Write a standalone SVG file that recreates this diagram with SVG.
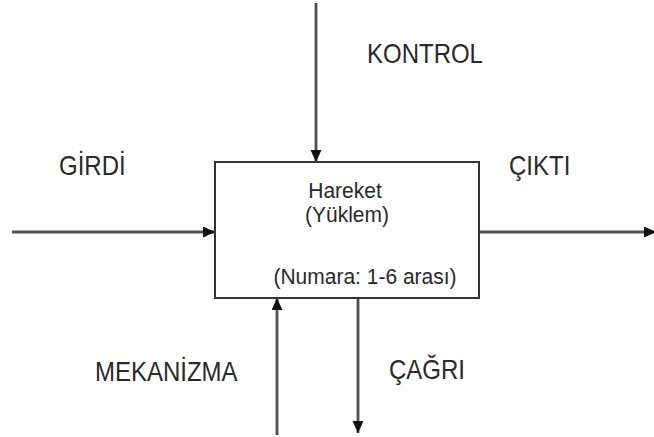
<svg xmlns="http://www.w3.org/2000/svg" width="654" height="437" viewBox="0 0 654 437">
  <style>
    .box { fill: #ffffff; stroke: #333333; stroke-width: 2; }
    .flow { fill: none; stroke: #505050; stroke-width: 2.8; }
    .label { font-family: "Liberation Sans", Arial, sans-serif; font-size: 24px; fill: #2a2a2a; }
    .inner { font-family: "Liberation Sans", Arial, sans-serif; font-size: 21px; fill: #2a2a2a; text-anchor: middle; }
  </style>
  <defs>
    <marker id="head" markerUnits="userSpaceOnUse" markerWidth="14" markerHeight="12" refX="12" refY="5.5" orient="auto">
      <path d="M0,0 L12,5.5 L0,11 Z" fill="#111111"/>
    </marker>
  </defs>

  <rect width="654" height="437" fill="#ffffff"/>

  <!-- ICOM connectors -->
  <g id="connectors">
    <line class="flow" x1="316" y1="3" x2="316" y2="162" marker-end="url(#head)"/>
    <line class="flow" x1="12" y1="232" x2="215" y2="232" marker-end="url(#head)"/>
    <line class="flow" x1="479" y1="232" x2="656" y2="232" marker-end="url(#head)"/>
    <line class="flow" x1="277" y1="435" x2="277" y2="298" marker-end="url(#head)"/>
    <line class="flow" x1="358" y1="298" x2="358" y2="433" marker-end="url(#head)"/>
  </g>

  <!-- activity box -->
  <g id="activity">
    <rect class="box" x="215" y="162" width="264" height="136"/>
    <text class="inner" transform="translate(345,198) scale(1,1.08)">Hareket</text>
    <text class="inner" transform="translate(347,222) scale(1,1.08)">(Yüklem)</text>
    <text class="inner" font-size="22" transform="translate(365,284) scale(1,1.08)">(Numara: 1-6 arası)</text>
  </g>

  <!-- labels, slightly stretched vertically -->
  <g id="kontrol"><text class="label" transform="translate(367,63) scale(1,1.14)">KONTROL</text></g>
  <g id="girdi"><text class="label" transform="translate(59,175) scale(1,1.14)">GİRDİ</text></g>
  <g id="cikti"><text class="label" transform="translate(509,175) scale(1,1.14)">ÇIKTI</text></g>
  <g id="mekanizma"><text class="label" transform="translate(95,381) scale(1,1.14)">MEKANİZMA</text></g>
  <g id="cagri"><text class="label" transform="translate(389,379) scale(1,1.14)">ÇAĞRI</text></g>
</svg>
